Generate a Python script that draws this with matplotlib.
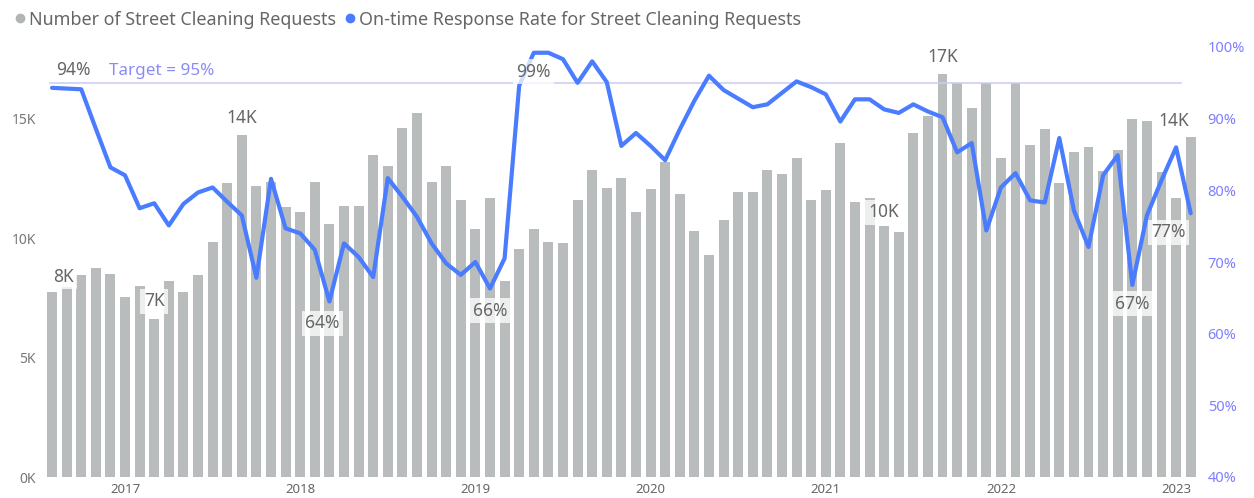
import matplotlib
matplotlib.use("Agg")
import matplotlib.pyplot as plt
from matplotlib.lines import Line2D
import pandas as pd

plt.rcParams['font.family'] = ['Noto Sans', 'DejaVu Sans']

months = pd.date_range("2016-08-01", "2023-02-01", freq="MS")

requests_k = [7.75, 7.95, 8.45, 8.75, 8.5, 7.55, 8.0, 6.6, 8.2, 7.75,
              8.45, 9.85, 12.3, 14.3, 12.2, 12.35, 11.3, 11.1, 12.35, 10.6,
              11.35, 11.35, 13.5, 13.0, 14.6, 15.25, 12.35, 13.0, 11.6, 10.4,
              11.7, 8.2, 9.55, 10.4, 9.85, 9.8, 11.6, 12.85, 12.1, 12.5,
              11.1, 12.05, 13.2, 11.85, 10.3, 9.3, 10.75, 11.95, 11.95, 12.85,
              12.7, 13.35, 11.6, 12.0, 14.0, 11.5, 11.7, 10.5, 10.25, 14.4,
              15.1, 16.85, 16.5, 15.45, 16.5, 13.35, 16.5, 13.9, 14.55, 12.3,
              13.6, 13.8, 12.8, 13.7, 15.0, 14.9, 12.75, 11.7, 14.25]

ontime_pct = [94.3, 94.2, 94.1, 88.6, 83.2, 82.1, 77.5, 78.2, 75.1, 78.1,
              79.7, 80.4, 78.4, 76.5, 67.8, 81.6, 74.7, 74.0, 71.7, 64.5,
              72.6, 70.7, 67.9, 81.7, 79.1, 76.3, 72.6, 69.8, 68.2, 70.0,
              66.3, 70.5, 94.6, 99.2, 99.2, 98.3, 95.0, 98.0, 95.1, 86.2,
              88.0, 86.2, 84.2, 88.5, 92.5, 96.0, 94.0, 92.8, 91.6, 92.0,
              93.6, 95.2, 94.4, 93.4, 89.6, 92.7, 92.7, 91.3, 90.8, 92.0,
              91.0, 90.2, 85.3, 86.6, 74.4, 80.4, 82.4, 78.6, 78.3, 87.3,
              77.2, 72.1, 82.1, 84.9, 66.8, 76.5, 81.4, 86.0, 76.8]

target_pct = 95
left_ticks = [0, 5, 10, 15]
left_ticklabels = ["0K", "5K", "10K", "15K"]
right_ticks = [40, 50, 60, 70, 80, 90, 100]
right_ticklabels = ["40%", "50%", "60%", "70%", "80%", "90%", "100%"]

# point labels: (index, text, dx_px, dy_px)
line_labels = [(0, "94%", 21, 18), (19, "64%", -7, -22), (30, "66%", 0, -22),
               (33, "99%", 0, -19), (74, "67%", 0, -19), (78, "77%", -22, -19)]
bar_labels = [(0, "8K", 11, 15), (7, "7K", 0, 18), (13, "14K", 0, 17),
              (57, "10K", 0, 14), (61, "17K", 0, 17), (78, "14K", -17, 16)]

W, H = 1254, 498
fig = plt.figure(figsize=(W / 100, H / 100), dpi=100)
ax = fig.add_axes([44 / W, 21 / H, (1198 - 44) / W, (477 - 47) / H])
ax2 = ax.twinx()

x = list(range(len(months)))
bar_color = "#b8bcbc"
line_color = "#4a7cff"
ax.bar(x, requests_k, width=0.68, color=bar_color, zorder=1)
ax.set_ylim(0, 18.0)
ax.set_xlim(-0.55, len(months) - 0.5)

ax2.plot(x, ontime_pct, color=line_color, lw=3.0, solid_joinstyle='round',
         solid_capstyle='round', zorder=3)
ax2.set_ylim(40, 100)
ax2.axhline(target_pct, xmin=0.005, xmax=0.985, color="#cacaf6", lw=1.1, zorder=2)
ax2.text(7.5, target_pct + 1.6, "Target = 95%", color="#8a8cf5", fontsize=12.3,
         ha="center", va="center")

for a in (ax, ax2):
    for s in a.spines.values():
        s.set_visible(False)

ax.set_yticks(left_ticks)
ax.set_yticklabels(left_ticklabels)
ax.tick_params(axis="y", length=0, labelsize=10, labelcolor="#777777", pad=6)
ax2.set_yticks(right_ticks)
ax2.set_yticklabels(right_ticklabels)
ax2.tick_params(axis="y", length=0, labelsize=10.5, labelcolor="#8080ff", pad=7)

year_idx = [i for i, m in enumerate(months) if m.month == 1]
ax.set_xticks(year_idx)
ax.set_xticklabels([str(months[i].year) for i in year_idx])
ax.tick_params(axis="x", length=0, labelsize=9.5, labelcolor="#666666", pad=4)

box = dict(boxstyle="square,pad=0.2", fc="white", ec="none", alpha=0.75)
for i, txt, dx, dy in line_labels:
    ax2.annotate(txt, (i, ontime_pct[i]), xytext=(dx, dy), textcoords="offset pixels",
                 ha="center", va="center", fontsize=12.5, color="#666666",
                 bbox=box, zorder=5)
for i, txt, dx, dy in bar_labels:
    ax2.annotate(txt, (i, 40 + (requests_k[i] / 18.0) * 60), xytext=(dx, dy),
                 textcoords="offset pixels", ha="center", va="center",
                 fontsize=12.5, color="#666666", bbox=box, zorder=5)

handles = [Line2D([], [], marker="o", ls="none", color="#b0b4b4", markersize=6),
           Line2D([], [], marker="o", ls="none", color=line_color, markersize=6)]
fig.legend(handles, ["Number of Street Cleaning Requests",
                     "On-time Response Rate for Street Cleaning Requests"],
           loc="upper left", bbox_to_anchor=(0.0, 1.0), ncol=2, frameon=False,
           fontsize=12.9, handletextpad=0.0, columnspacing=0.3,
           labelcolor="#666666", borderaxespad=0.2, handlelength=1.0)

fig.savefig("out.png", dpi=100)
